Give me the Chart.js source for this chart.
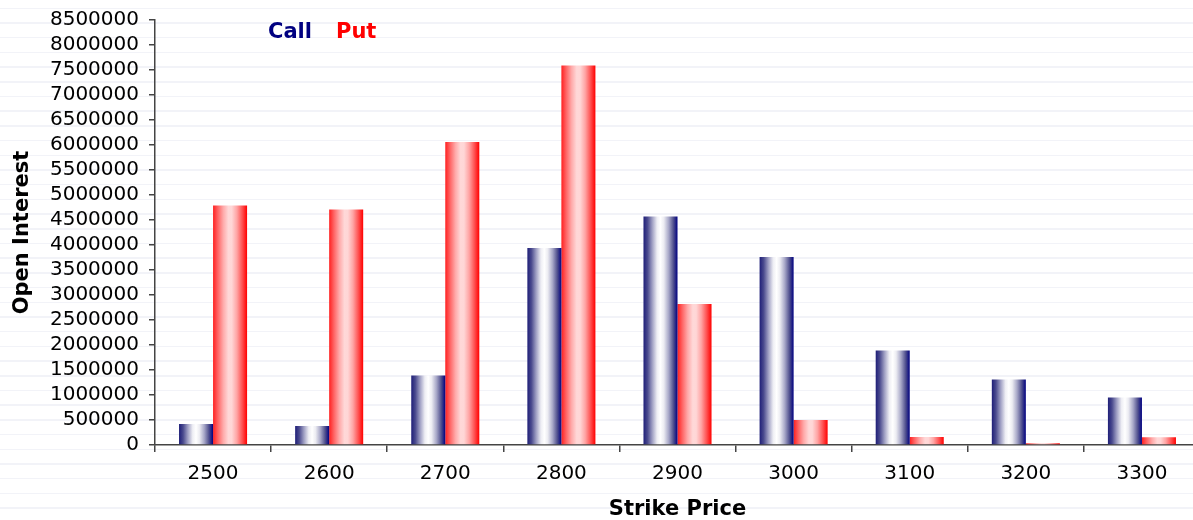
<!DOCTYPE html>
<html>
<head>
<meta charset="utf-8">
<title>Open Interest by Strike Price</title>
<script src="https://cdn.jsdelivr.net/npm/chart.js@4.4.1/dist/chart.umd.min.js"></script>
<style>
    html, body {
        margin: 0;
        padding: 0;
        overflow: hidden;
    }
    body {
        width: 1193px;
        height: 520px;
        background: #fff repeating-linear-gradient(to bottom, #ffffff 0px, #ffffff 7.5px, #f2f3f8 7.5px, #f2f3f8 9px, #ffffff 9px, #ffffff 14.7px);
    }
    #wrap {
        position: relative;
        width: 1200px;
        height: 520px;
    }
    .legend-item {
        position: absolute;
        top: 21px;
        font-family: "DejaVu Sans", Verdana, sans-serif;
        font-weight: bold;
        font-size: 21px;
        line-height: 21px;
    }
</style>
</head>
<body>
<div id="wrap">
    <canvas id="oiChart" width="1200" height="520"></canvas>
    <span class="legend-item" style="left:268px;color:#000080">Call</span>
    <span class="legend-item" style="left:336px;color:#ff0000">Put</span>
</div>
<script>
    // values
    const strikes = ['2500', '2600', '2700', '2800', '2900', '3000', '3100', '3200', '3300'];
    const callOI = [420000, 380000, 1390000, 3940000, 4570000, 3760000, 1890000, 1310000, 950000];
    const putOI = [4790000, 4710000, 6060000, 7590000, 2820000, 500000, 160000, 35000, 155000];
    const yMax = 8500000;
    const yStep = 500000;

    const callStops = [[0, '#1e1e78'], [0.12, '#4a4a8e'], [0.26, '#a0a0c4'], [0.4, '#eeeef4'], [0.5, '#ffffff'], [0.6, '#ececf2'], [0.74, '#a8a8c8'], [0.88, '#50508e'], [1, '#000080']];
    const putStops = [[0, '#ff2020'], [0.14, '#ff6464'], [0.3, '#ffaaaa'], [0.45, '#ffd8d8'], [0.55, '#ffd6d6'], [0.7, '#ffa4a4'], [0.86, '#ff5050'], [1, '#ff0000']];

    const fontFamily = '"DejaVu Sans", Verdana, sans-serif';

    // paints every bar with a horizontal "cylinder" gradient
    const barShading = {
        id: 'barShading',
        beforeDatasetsDraw: function (chart) {
            const ctx = chart.ctx;
            chart.data.datasets.forEach(function (ds, i) {
                const stops = i === 0 ? callStops : putStops;
                chart.getDatasetMeta(i).data.forEach(function (bar) {
                    const left = bar.x - bar.width / 2;
                    const grad = ctx.createLinearGradient(left, 0, left + bar.width, 0);
                    stops.forEach(function (s) {
                        grad.addColorStop(s[0], s[1]);
                    });
                    bar.options = Object.assign({}, bar.options, { backgroundColor: grad });
                });
            });
        }
    };

    const ctx = document.getElementById('oiChart').getContext('2d');
    new Chart(ctx, {
        type: 'bar',
        data: {
            labels: strikes,
            datasets: [{
                label: 'Call',
                data: callOI,
                backgroundColor: '#000080',
                borderWidth: 0,
                categoryPercentage: 0.586,
                barPercentage: 1
            }, {
                label: 'Put',
                data: putOI,
                backgroundColor: '#ff0000',
                borderWidth: 0,
                categoryPercentage: 0.586,
                barPercentage: 1
            }]
        },
        options: {
            responsive: false,
            devicePixelRatio: 1,
            animation: false,
            layout: {
                padding: { top: 17, right: 0, bottom: 0, left: 0 }
            },
            plugins: {
                legend: { display: false },
                tooltip: { enabled: false }
            },
            scales: {
                x: {
                    grid: {
                        display: true,
                        drawOnChartArea: false,
                        drawTicks: true,
                        tickLength: 7,
                        color: '#444',
                        lineWidth: 1.5
                    },
                    border: { color: '#444', width: 1.5 },
                    ticks: {
                        color: '#000',
                        padding: 10,
                        font: { family: fontFamily, size: 20 }
                    },
                    title: {
                        display: true,
                        text: 'Strike Price',
                        color: '#000',
                        padding: 0,
                        font: { family: fontFamily, size: 21, weight: 'bold', lineHeight: 1 }
                    },
                    afterFit: function (scale) {
                        scale.height = 75;
                    }
                },
                y: {
                    min: 0,
                    max: yMax,
                    grid: {
                        display: true,
                        drawOnChartArea: false,
                        drawTicks: true,
                        tickLength: 6,
                        color: '#444',
                        lineWidth: 1.5
                    },
                    border: { color: '#444', width: 1.5 },
                    ticks: {
                        stepSize: yStep,
                        autoSkip: false,
                        color: '#000',
                        padding: 10,
                        font: { family: fontFamily, size: 20, lineHeight: 1 },
                        callback: function (value) {
                            return String(value);
                        }
                    },
                    title: {
                        display: true,
                        text: 'Open Interest',
                        color: '#000',
                        padding: { top: 12, bottom: 4 },
                        font: { family: fontFamily, size: 21, weight: 'bold', lineHeight: 1 }
                    },
                    afterFit: function (scale) {
                        scale.width = 155;
                    }
                }
            }
        },
        plugins: [barShading]
    });
</script>
</body>
</html>
